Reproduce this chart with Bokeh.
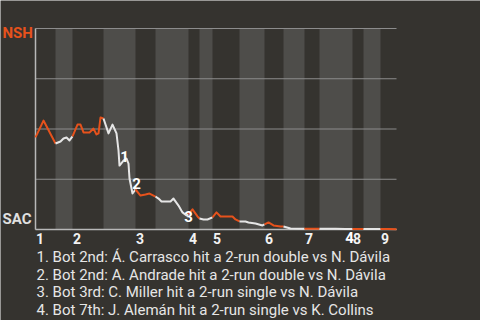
import numpy as np
from bokeh.plotting import figure
from bokeh.models import Range1d
from bokeh.core.properties import value
from bokeh.embed import file_html
from bokeh.resources import INLINE

# x: game progress units; y: NSH win probability (1 = NSH, 0 = SAC)
half_inning_bounds = [0, 20, 37, 68, 100, 120, 153, 164, 177, 204, 229, 248, 269, 284, 317, 328, 345, 361]
inning_labels = ["1", "2", "3", "4", "5", "6", "7", "8", "9"]
wp_ticks = [0, 0.25, 0.5, 0.75, 1]
team_labels = ["SAC", "NSH"]

wp_x = [0, 8, 20,
        25, 28, 31, 34, 37,
        42, 45, 48, 54, 58, 61, 63, 65, 68,
        73, 77, 81, 83, 84, 88, 91, 93, 94, 97, 100,
        105, 110, 114, 118, 120,
        123, 126, 135, 138, 143, 147, 151, 153,
        157, 162, 164,
        168, 172, 177,
        181, 185, 197, 200, 204,
        210, 213, 220, 227, 229,
        233, 238, 245, 248,
        255, 269,
        275, 284,
        300, 310, 317,
        322, 328,
        338, 345,
        353, 361]
wp_y = [0.458, 0.542, 0.428,
        0.438, 0.453, 0.458, 0.443, 0.463,
        0.522, 0.522, 0.483, 0.483, 0.502, 0.473, 0.478, 0.557, 0.552,
        0.478, 0.522, 0.478, 0.393, 0.318, 0.343, 0.353, 0.328, 0.254, 0.179, 0.199,
        0.169, 0.174, 0.179, 0.169, 0.164,
        0.154, 0.139, 0.139, 0.154, 0.119, 0.085, 0.070, 0.075,
        0.100, 0.065, 0.055,
        0.050, 0.050, 0.060,
        0.085, 0.065, 0.065, 0.050, 0.040,
        0.040, 0.035, 0.030, 0.020, 0.025,
        0.035, 0.020, 0.015, 0.015,
        0.005, 0.004,
        0.004, 0.004,
        0.004, 0.002, 0.002,
        0.002, 0.002,
        0.002, 0.002,
        0.002, 0.001]

event_x = [89, 101, 153, 314]
event_y = [0.363, 0.229, 0.065, -0.042]
event_num = ["1", "2", "3", "4"]
event_text = [
    "1. Bot 2nd: Á. Carrasco hit a 2-run double vs N. Dávila",
    "2. Bot 2nd: A. Andrade hit a 2-run double vs N. Dávila",
    "3. Bot 3rd: C. Miller hit a 2-run single vs N. Dávila",
    "4. Bot 7th: J. Alemán hit a 2-run single vs K. Collins",
]

BG = "#35332f"
LIGHT = "#4e4d4a"
ORANGE = "#e6521c"
WHITE = "#e6e6e6"
FONT = value("Roboto")

# layout in pixels of the 480x320 canvas
W, H = 480, 320
L, R, T, B = 35, 396, 28, 229
b = half_inning_bounds
x_end = b[-1]
px_per_x = (R - L) / x_end
px_per_y = (B - T) / 1.0

p = figure(width=W, height=H, output_backend="svg", toolbar_location=None,
           x_range=Range1d(-L / px_per_x, (W - L) / px_per_x),
           y_range=Range1d(-(H - B) / px_per_y, B / px_per_y),
           min_border=0)
p.background_fill_color = BG
p.border_fill_color = BG
p.outline_line_color = None
p.axis.visible = False
p.grid.visible = False

# half-inning bands (bottom halves lighter)
p.quad(left=b[1::2], right=b[2::2], bottom=0, top=1, fill_color=LIGHT, line_color=None)

# horizontal grid lines
p.segment(x0=[0] * len(wp_ticks), x1=[x_end] * len(wp_ticks), y0=wp_ticks, y1=wp_ticks,
          line_color="#8c8c8c", line_width=1)

# axis lines
p.segment(x0=[0, 0], y0=[0, 0], x1=[0, x_end], y1=[1, 0], line_color="#b8b8b8", line_width=1.5)

# win probability line, split by half inning
xs, ys, cols = [], [], []
wx = np.array(wp_x, dtype=float)
wy = np.array(wp_y, dtype=float)
for i in range(len(b) - 1):
    m = (wx >= b[i]) & (wx <= b[i + 1])
    xs.append(list(wx[m]))
    ys.append(list(wy[m]))
    cols.append(ORANGE if i % 2 == 0 else WHITE)
p.multi_line(xs=xs, ys=ys, line_color=cols, line_width=2, line_join="round")

# inning tick labels
tick_pos = [v + 4.5 for v in b[0::2]]
p.text(x=tick_pos, y=[-0.044] * len(tick_pos), text=inning_labels, text_font=FONT,
       text_font_style="bold", text_font_size="14px", text_color="#f2f2f2",
       text_align="center", text_baseline="middle")

# team labels
p.text(x=[-33], y=[1.022], text=[team_labels[1]], text_font=FONT, text_font_style="bold",
       text_font_size="15px", text_color=ORANGE, text_baseline="top")
p.text(x=[-33], y=[0.005], text=[team_labels[0]], text_font=FONT, text_font_style="bold",
       text_font_size="15px", text_color="#e0e0e0", text_baseline="bottom")

# event markers
p.text(x=event_x, y=event_y, text=event_num, text_font=FONT, text_font_style="bold",
       text_font_size="15px", text_color="#ffffff", text_align="center", text_baseline="middle")

# event descriptions
p.text(x=[1] * 4, y=[-0.137 - 0.088 * i for i in range(4)], text=event_text, text_font=FONT,
       text_font_size="15px", text_color=WHITE, text_baseline="alphabetic")

open("out.html", "w").write(file_html(p, INLINE))
